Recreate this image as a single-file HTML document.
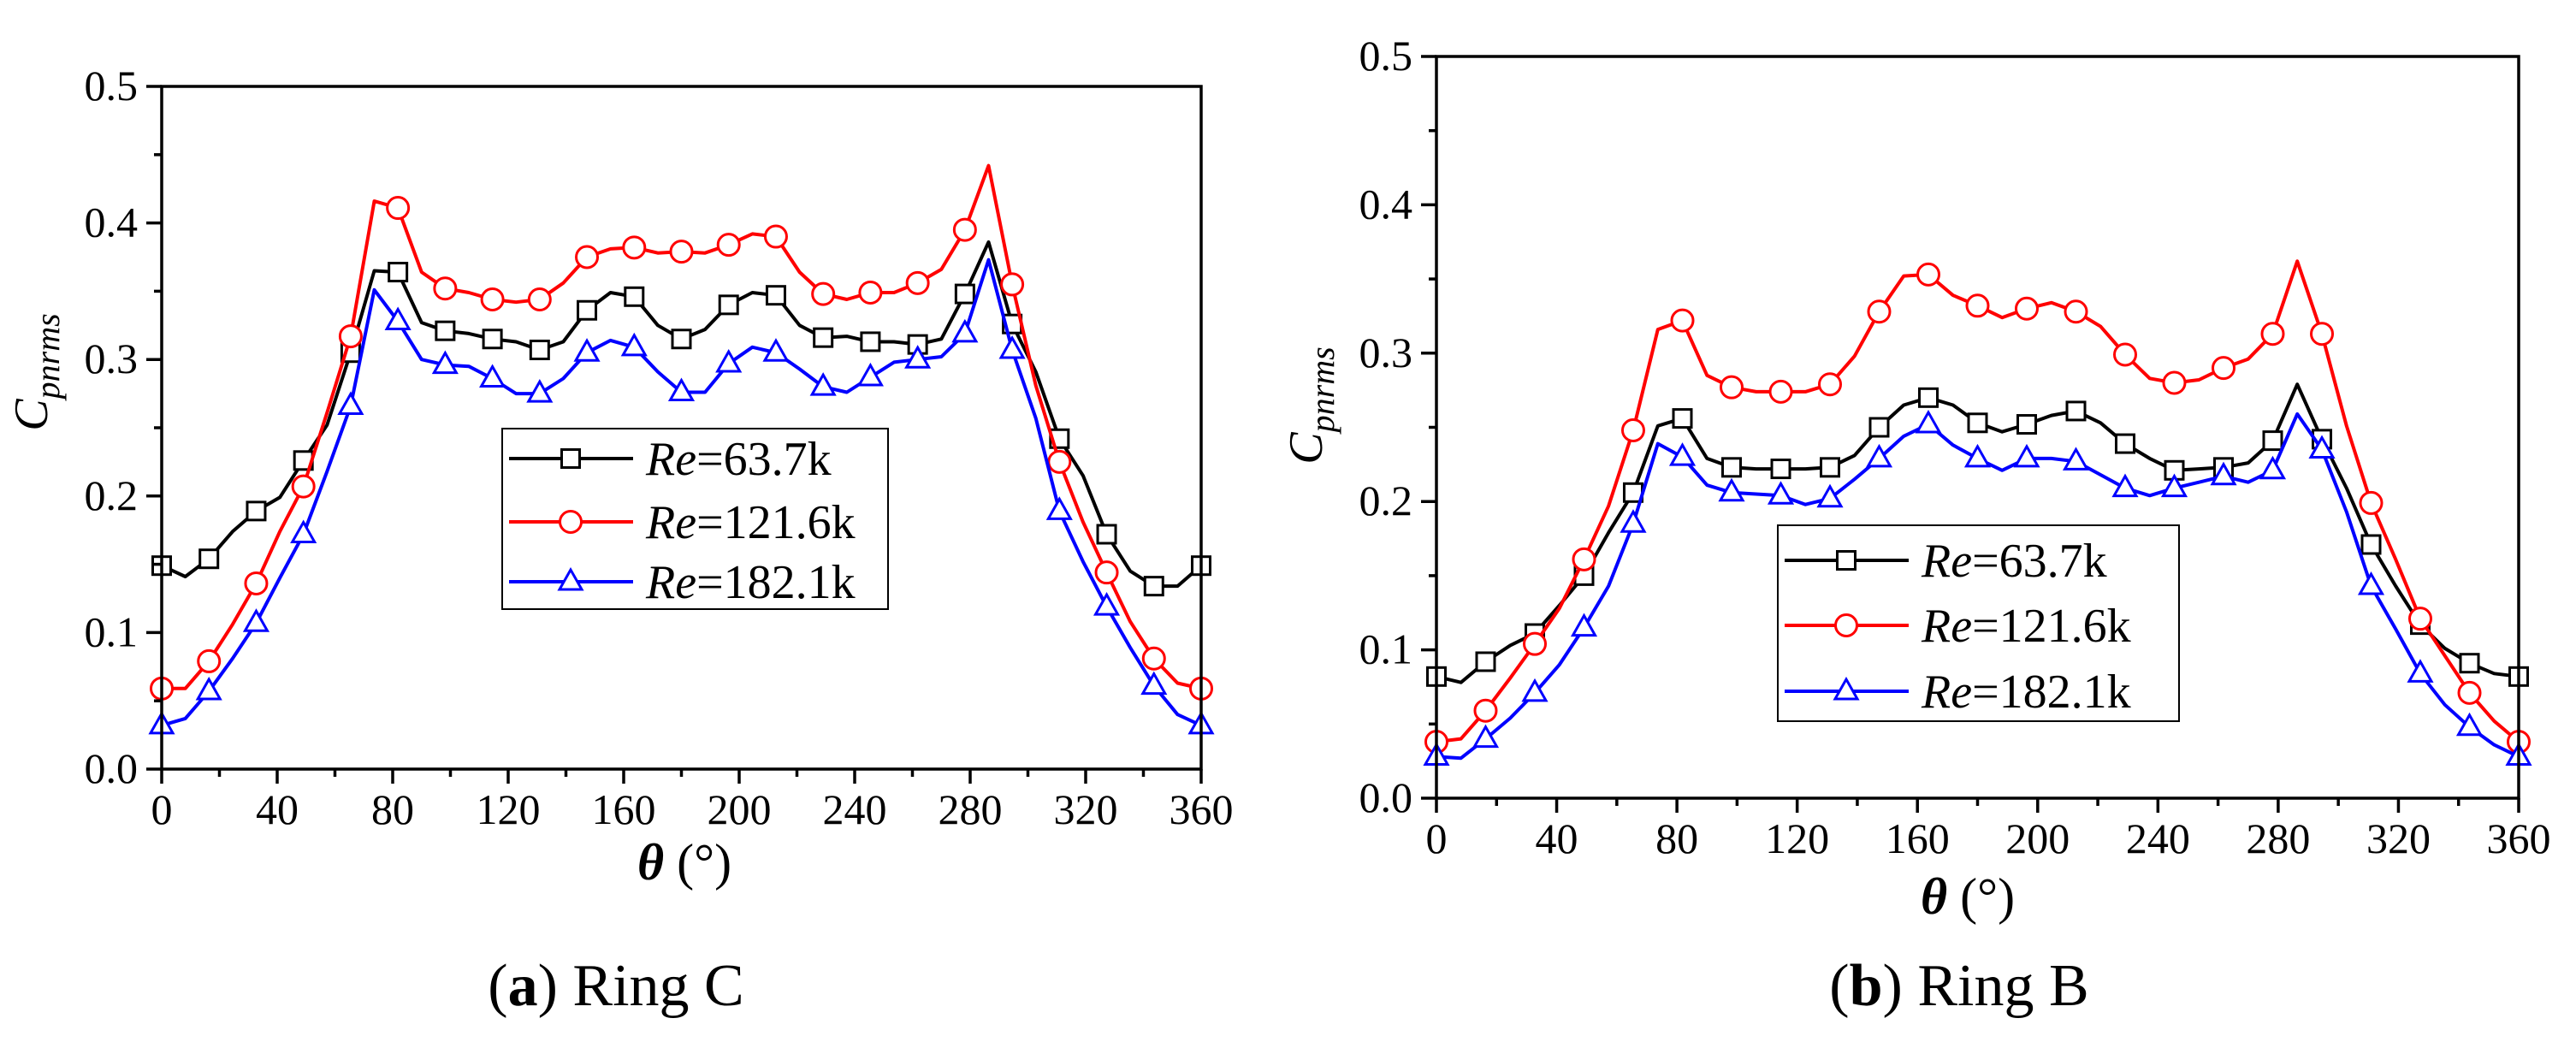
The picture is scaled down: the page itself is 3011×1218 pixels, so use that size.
<!DOCTYPE html>
<html><head><meta charset="utf-8">
<style>
html,body{margin:0;padding:0;background:#fff;}
svg{display:block;}
svg text{font-family:"Liberation Serif","DejaVu Serif",serif;}
</style></head>
<body>
<svg id="fig" width="3011" height="1218" viewBox="0 0 3011 1218" xmlns="http://www.w3.org/2000/svg" font-family="Liberation Serif, serif"></svg>
<script>
const thetas = [0,8.18,16.36,24.55,32.73,40.91,49.09,57.27,65.45,73.64,81.82,90,98.18,106.36,114.55,122.73,130.91,139.09,147.27,155.45,163.64,171.82,180,188.18,196.36,204.55,212.73,220.91,229.09,237.27,245.45,253.64,261.82,270,278.18,286.36,294.55,302.73,310.91,319.09,327.27,335.45,343.64,351.82,360];
const xTicks = [0,40,80,120,160,200,240,280,320,360];
const yTicks = [0.0,0.1,0.2,0.3,0.4,0.5];
const yTickLabels = ["0.0","0.1","0.2","0.3","0.4","0.5"];
const seriesNames = ["63.7k","121.6k","182.1k"];
const ringC_black = [0.149,0.141,0.154,0.174,0.189,0.199,0.226,0.252,0.305,0.365,0.364,0.327,0.321,0.319,0.315,0.313,0.307,0.313,0.336,0.349,0.346,0.325,0.315,0.322,0.340,0.349,0.347,0.325,0.316,0.317,0.313,0.313,0.311,0.315,0.348,0.386,0.326,0.291,0.242,0.215,0.172,0.145,0.134,0.134,0.149];
const ringC_red = [0.059,0.059,0.079,0.106,0.136,0.174,0.207,0.261,0.317,0.416,0.411,0.364,0.352,0.349,0.344,0.342,0.344,0.356,0.375,0.381,0.382,0.378,0.379,0.378,0.384,0.392,0.390,0.364,0.348,0.344,0.349,0.349,0.356,0.366,0.395,0.442,0.355,0.281,0.225,0.181,0.144,0.108,0.081,0.063,0.059];
const ringC_blue = [0.032,0.037,0.057,0.081,0.107,0.140,0.172,0.218,0.266,0.351,0.328,0.300,0.296,0.295,0.286,0.275,0.275,0.286,0.305,0.314,0.309,0.291,0.276,0.276,0.297,0.309,0.305,0.293,0.280,0.276,0.287,0.298,0.300,0.302,0.319,0.373,0.307,0.257,0.189,0.152,0.119,0.089,0.061,0.040,0.032];
const ringB_black = [0.082,0.078,0.092,0.103,0.111,0.130,0.150,0.179,0.206,0.251,0.256,0.229,0.223,0.222,0.222,0.222,0.223,0.231,0.250,0.265,0.270,0.265,0.253,0.247,0.252,0.258,0.261,0.253,0.239,0.229,0.221,0.222,0.223,0.226,0.241,0.279,0.242,0.209,0.171,0.143,0.117,0.101,0.091,0.084,0.082];
const ringB_red = [0.038,0.040,0.059,0.081,0.104,0.128,0.161,0.197,0.248,0.316,0.322,0.285,0.277,0.274,0.274,0.274,0.279,0.298,0.328,0.352,0.353,0.339,0.332,0.324,0.330,0.334,0.328,0.318,0.299,0.283,0.280,0.282,0.290,0.296,0.313,0.362,0.313,0.251,0.199,0.161,0.121,0.096,0.071,0.052,0.038];
const ringB_blue = [0.028,0.027,0.040,0.054,0.071,0.090,0.115,0.143,0.185,0.239,0.230,0.211,0.206,0.205,0.204,0.198,0.202,0.215,0.229,0.244,0.252,0.238,0.229,0.221,0.229,0.229,0.227,0.218,0.209,0.204,0.209,0.213,0.217,0.213,0.221,0.259,0.235,0.193,0.143,0.114,0.084,0.063,0.048,0.036,0.028];

const NS="http://www.w3.org/2000/svg";
const svg=document.getElementById('fig');
const FONT='"Liberation Serif", "DejaVu Serif", serif';
function mk(tag,attrs,parent){const e=document.createElementNS(NS,tag);for(const k in attrs)e.setAttribute(k,attrs[k]);if(tag==='text')e.style.fontFamily=FONT;(parent||svg).appendChild(e);return e;}

const colors=["#000000","#ff0000","#0000ff"];
const markerKinds=["square","circle","triangle"];

function drawMarker(g,kind,x,y,color){
  let m;
  if(kind==="square"){m=mk('rect',{x:x-10.5,y:y-10.5,width:21,height:21,fill:'#fff',stroke:color,'stroke-width':3},g);}
  else if(kind==="circle"){m=mk('circle',{cx:x,cy:y,r:12.5,fill:'#fff',stroke:color,'stroke-width':3},g);}
  else {m=mk('polygon',{points:`${x},${y-14} ${x-13},${y+9} ${x+13},${y+9}`,fill:'#fff',stroke:color,'stroke-width':3},g);}
  
  
}

function panel(id,L,R,T,B,data,legend,ylab,xlab,caption){
  const g=mk('g',{});
  
  
  const xs=v=>L+(v/360)*(R-L);
  const ys=v=>B-(v/0.5)*(B-T);
  data.forEach((arr,si)=>{
    const sg=mk('g',{},g);
    
    
    const pts=arr.map((v,i)=>xs(thetas[i]).toFixed(1)+','+ys(v).toFixed(1)).join(' ');
    const pl=mk('polyline',{points:pts,fill:'none',stroke:colors[si],'stroke-width':4,'stroke-linejoin':'round'},sg);
    
    
    arr.forEach((v,i)=>{ if(i%2===0) drawMarker(sg,markerKinds[si],xs(thetas[i]),ys(v),colors[si]); });
  });
  const fr=mk('rect',{x:L,y:T,width:R-L,height:B-T,fill:'none',stroke:'#000','stroke-width':3.5},g);
  
  
  for(let v=0;v<=360;v+=20){
    const major=v%40===0;
    const t=mk('line',{x1:xs(v),x2:xs(v),y1:B,y2:B+(major?17:9),stroke:'#000','stroke-width':3.5},g);
    
    
  }
  xTicks.forEach(v=>{
    const t=mk('text',{x:xs(v),y:B+64,'font-size':50,'text-anchor':'middle'},g);
    t.textContent=String(v);
    
    
  });
  for(let i=0;i<=10;i++){
    const v=i*0.05, major=i%2===0;
    const t=mk('line',{x1:L-(major?18:9),x2:L,y1:ys(v),y2:ys(v),stroke:'#000','stroke-width':3.5},g);
    
    
  }
  yTicks.forEach((v,i)=>{
    const t=mk('text',{x:L-28,y:ys(v)+16,'font-size':50,'text-anchor':'end'},g);
    t.textContent=yTickLabels[i];
    
    
  });
  const yl=mk('text',{transform:`translate(${ylab[0]},${ylab[1]}) rotate(-90)`,'font-size':56,'font-style':'italic','text-anchor':'middle'},g);
  yl.innerHTML='C<tspan font-size="40" dy="14">pnrms</tspan>';
  
  
  const xl=mk('text',{x:xlab[0],y:xlab[1],'font-size':60,'text-anchor':'middle'},g);
  xl.innerHTML='<tspan font-style="italic" font-weight="bold">θ</tspan> (°)';
  
  
  const cp=mk('text',{x:caption[0],y:caption[1],'font-size':70,'text-anchor':'middle'},g);
  cp.innerHTML='(<tspan font-weight="bold">'+caption[2]+'</tspan>) '+caption[3];
  
  
  const lg=mk('g',{},g);
  
  
  const lb=mk('rect',{x:legend.x,y:legend.y,width:legend.w,height:legend.h,fill:'#fff',stroke:'#000','stroke-width':2},lg);
  
  
  seriesNames.forEach((n,i)=>{
    const ey=legend.rows[i];
    const e=mk('g',{},lg);
    
    
    mk('line',{x1:legend.x+8,x2:legend.x+153,y1:ey,y2:ey,stroke:colors[i],'stroke-width':4},e);
    drawMarker(e,markerKinds[i],legend.x+80,ey,colors[i]);
    const t=mk('text',{x:legend.x+168,y:ey+19,'font-size':56},e);
    t.innerHTML='<tspan font-style="italic">Re</tspan>='+n;
  });
}

panel('panel-ring-c',189,1404,101,899,[ringC_black,ringC_red,ringC_blue],
  {x:587,y:501,w:451,h:211,rows:[536,610,680]},[55,435],[800,1028],[720,1175,'a','Ring C']);
panel('panel-ring-b',1679,2944,66,933,[ringB_black,ringB_red,ringB_blue],
  {x:2078,y:614,w:469,h:229,rows:[655,731,808]},[1545,474],[2300,1068],[2290,1175,'b','Ring B']);
</script>
</body></html>
